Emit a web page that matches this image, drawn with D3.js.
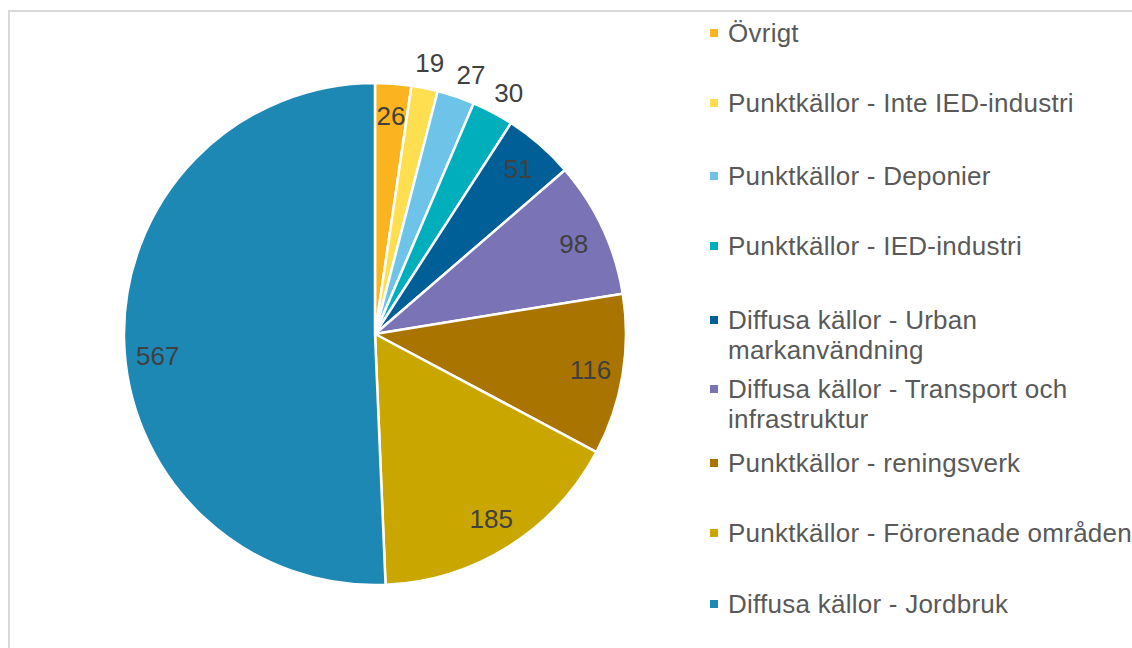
<!DOCTYPE html>
<html>
<head>
<meta charset="utf-8">
<script src="https://cdn.jsdelivr.net/npm/d3@7"></script>
<style>
body{margin:0;background:#fff;}
svg{display:block;font-family:"Liberation Sans",Arial,sans-serif;}
</style>
</head>
<body>
<svg id="svg" width="1132" height="648"></svg>
<script>
var categories=["Övrigt","Punktkällor - Inte IED-industri","Punktkällor - Deponier","Punktkällor - IED-industri","Diffusa källor - Urban markanvändning","Diffusa källor - Transport och infrastruktur","Punktkällor - reningsverk","Punktkällor - Förorenade områden","Diffusa källor - Jordbruk"];
var values=[26,19,27,30,51,98,116,185,567];
var colors=["#fbb41f","#ffdf50","#6dc4e8","#00aebc","#005f96","#7a73b6","#a97500","#c9a700","#1e88b5"];
// legend lines (wrapped like the original)
var legendLines=[["Övrigt"],["Punktkällor - Inte IED-industri"],["Punktkällor - Deponier"],["Punktkällor - IED-industri"],["Diffusa källor - Urban","markanvändning"],["Diffusa källor - Transport och","infrastruktur"],["Punktkällor - reningsverk"],["Punktkällor - Förorenade områden"],["Diffusa källor - Jordbruk"]];
var outside=[false,true,true,true,false,false,false,false,false];
// small angle nudges (degrees) for label placement, like excel's best fit
var nudge=[0,0,1.5,1,0,0.5,0,0,-4.5];

var svg=d3.select("#svg");
var cx=375,cy=334,R=251;

// chart frame
svg.append("rect")
    .attr("x",9).attr("y",11)
    .attr("width",1140).attr("height",660)
    .attr("fill","none").attr("stroke","#d9d9d9").attr("stroke-width",2)

var data=values.map((v,i)=>({name:categories[i],value:v,i:i}))
var pie=d3.pie().value(d=>d.value).sort(null)
var arcs=pie(data)
var arc=d3.arc().innerRadius(0).outerRadius(R)

var g=svg.append("g").attr("transform","translate("+cx+","+cy+")")

g.selectAll("path")
    .data(arcs)
  .enter().append("path")
    .attr("d",arc)
    .attr("fill",d=>colors[d.data.i])
    .attr("stroke","#fff")
    .attr("stroke-width",2.5)
    .attr("stroke-linejoin","round")

//labels: inside near the rim, small ones outside
g.selectAll("text.lbl")
    .data(arcs)
  .enter().append("text")
    .attr("class","lbl")
    .attr("transform",d=>{
        var a=(d.startAngle+d.endAngle)/2+nudge[d.data.i]*Math.PI/180
        var r=outside[d.data.i]?R*1.1:R*0.87
        return "translate("+(Math.sin(a)*r)+","+(-Math.cos(a)*r)+")"
    })
    .attr("text-anchor","middle")
    .attr("dy","0.35em")
    .style("font-size","26px")
    .style("fill","#404040")
    .text(d=>d.data.value)

// legend
var legY=[33,103,176,246,320,389,463,533,604]
var leg=svg.append("g")
legendLines.forEach((lines,i)=>{
    leg.append("rect")
        .attr("x",710).attr("y",legY[i]-4)
        .attr("width",8).attr("height",8)
        .attr("fill",colors[i])
    lines.forEach((t,j)=>{
        leg.append("text")
            .attr("x",728).attr("y",legY[i]+j*30)
            .attr("dy","0.35em")
            .style("font-size","26px")
            .style("letter-spacing","0.25px")
            .style("fill","#595959")
            .text(t)
    })
})
</script>
</body>
</html>
